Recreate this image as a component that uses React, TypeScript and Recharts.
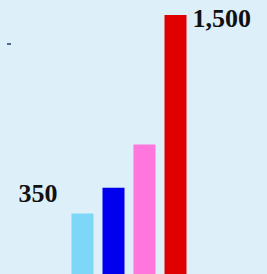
import { BarChart, Bar, Cell, XAxis, YAxis, LabelList } from 'recharts'

const categories = ['A', 'B', 'C', 'D']
const values = [350, 500, 750, 1500]
const barColors = ['#7dd8f7', '#0000ee', '#ff77dd', '#e00000']
const valueLabels = ['350', '', '', '1,500']

const data = categories.map((name, i) => ({ name, value: values[i] }))

// eslint-disable-next-line @typescript-eslint/no-explicit-any
function ValueLabel({ x, y, width, index }: any) {
  const text = valueLabels[index]
  if (!text) return null
  const isFirst = index === 0
  return (
    <text
      x={isFirst ? x - 14 : x + width + 6}
      y={y + (isFirst ? -12 : 12)}
      textAnchor={isFirst ? 'end' : 'start'}
      fontFamily="'Liberation Serif', 'DejaVu Serif', serif"
      fontWeight="bold"
      fontSize={26}
      fill="#111"
    >
      {text}
    </text>
  )
}

export default function App() {
  return (
    <div
      style={{
        position: 'absolute',
        left: 0,
        top: 0,
        width: 267,
        height: 274,
        background: '#ddeff9',
        overflow: 'hidden',
      }}
    >
      <BarChart
        width={267}
        height={274}
        data={data}
        margin={{ top: 15, right: 76.5, bottom: 0, left: 66.5 }}
        barCategoryGap={0}
      >
        <XAxis dataKey="name" hide />
        <YAxis hide domain={[0, 1500]} />
        <Bar dataKey="value" barSize={22} isAnimationActive={false}>
          {data.map((entry, i) => (
            <Cell key={entry.name} fill={barColors[i]} />
          ))}
          <LabelList dataKey="value" content={<ValueLabel />} />
        </Bar>
      </BarChart>
      {/* small stray mark at top left */}
      <span
        style={{
          position: 'absolute',
          left: 7,
          top: 43,
          width: 4,
          height: 2,
          background: '#4a6a90',
        }}
      />
    </div>
  )
}
